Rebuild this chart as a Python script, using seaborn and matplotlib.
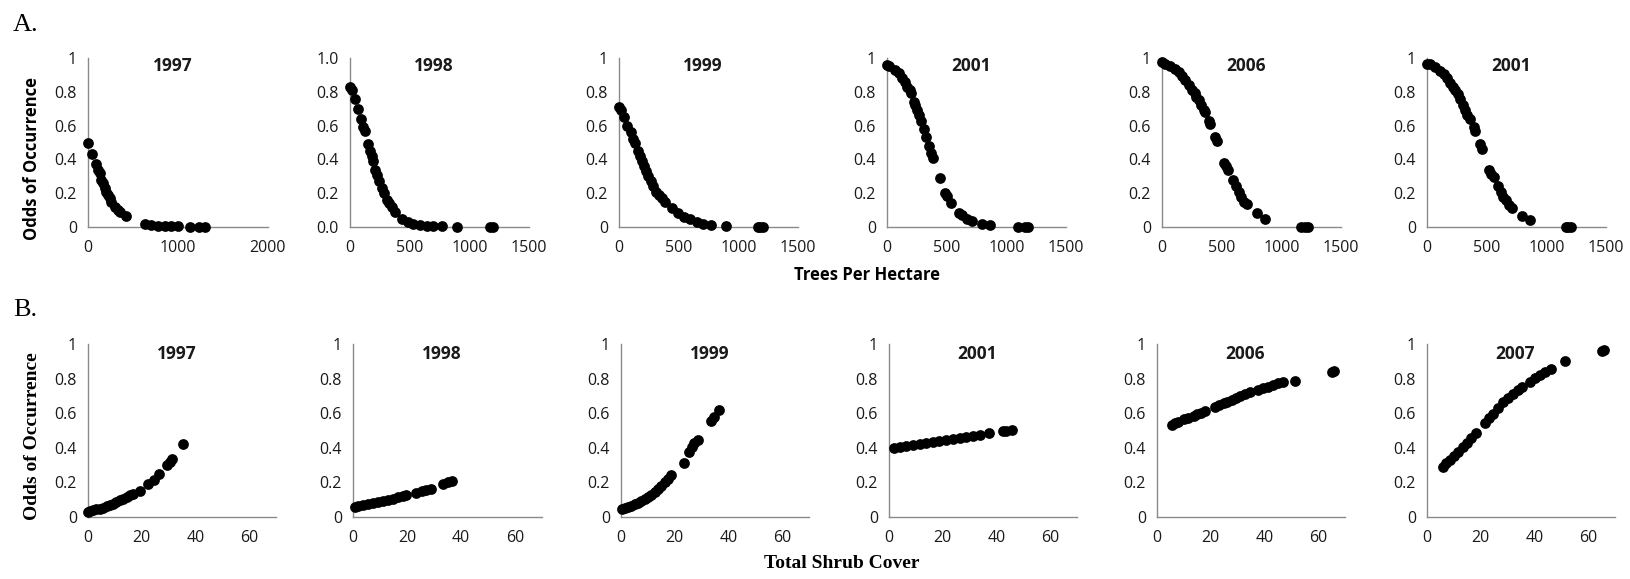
import matplotlib
matplotlib.use("Agg")
import matplotlib.pyplot as plt
import seaborn as sns

# ---------------------------------------------------------------------------
# Data (x = trees per hectare / shrub cover, y = odds)
# ---------------------------------------------------------------------------

top_titles = ["1997", "1998", "1999", "2001", "2006", "2001"]
bottom_titles = ["1997", "1998", "1999", "2001", "2006", "2007"]

trees_x_1997 = [0, 48, 93, 111, 130, 148, 167, 185, 204, 222, 241, 259, 296, 333, 352, 426,
                630, 704, 778, 852, 926, 1000, 1130, 1233, 1304]
trees_y_1997 = [0.50, 0.43, 0.37, 0.34, 0.32, 0.28, 0.26, 0.23, 0.21, 0.19, 0.17, 0.15, 0.12,
                0.10, 0.09, 0.065, 0.02, 0.012, 0.008, 0.005, 0.004, 0.003, 0.002, 0.002, 0.002]

trees_x_1998 = [0, 14, 42, 70, 92, 112, 126, 154, 168, 182, 196, 210, 223, 246, 265, 285, 307,
                330, 349, 377, 433, 489, 531, 587, 643, 698, 774, 894, 1173, 1201]
trees_y_1998 = [0.83, 0.81, 0.76, 0.70, 0.64, 0.59, 0.57, 0.49, 0.45, 0.42, 0.39, 0.34, 0.31,
                0.27, 0.23, 0.20, 0.16, 0.14, 0.12, 0.09, 0.05, 0.03, 0.02, 0.014, 0.008, 0.006,
                0.004, 0.002, 0.001, 0.001]

trees_x_1999 = [0, 17, 42, 70, 98, 120, 134, 156, 176, 190, 209, 226, 245, 265, 287, 309, 337,
                357, 385, 441, 496, 544, 594, 650, 705, 775, 895, 1165, 1179, 1207]
trees_y_1999 = [0.71, 0.69, 0.65, 0.60, 0.56, 0.52, 0.50, 0.45, 0.42, 0.39, 0.36, 0.33, 0.30,
                0.27, 0.24, 0.21, 0.19, 0.17, 0.15, 0.11, 0.08, 0.06, 0.045, 0.03, 0.02, 0.014,
                0.008, 0.002, 0.002, 0.002]

trees_x_2001 = [0, 14, 70, 98, 125, 148, 167, 190, 204, 223, 237, 251, 265, 284, 307, 329, 349,
                371, 385, 441, 488, 502, 538, 600, 628, 670, 711, 795, 864, 1101, 1157, 1179]
trees_y_2001 = [0.96, 0.955, 0.93, 0.91, 0.88, 0.86, 0.83, 0.81, 0.79, 0.74, 0.72, 0.69, 0.66,
                0.63, 0.58, 0.53, 0.48, 0.44, 0.41, 0.29, 0.20, 0.185, 0.14, 0.08, 0.07, 0.05,
                0.035, 0.018, 0.012, 0.002, 0.002, 0.002]

trees_x_2006 = [0, 28, 70, 112, 140, 168, 196, 223, 251, 274, 288, 307, 330, 349, 363, 391, 405,
                447, 461, 522, 539, 550, 592, 620, 648, 665, 690, 712, 796, 860, 1165, 1201, 1221]
trees_y_2006 = [0.974, 0.966, 0.955, 0.935, 0.915, 0.895, 0.87, 0.84, 0.81, 0.79, 0.77, 0.75,
                0.72, 0.69, 0.68, 0.63, 0.61, 0.53, 0.51, 0.38, 0.36, 0.34, 0.28, 0.24, 0.205,
                0.18, 0.15, 0.136, 0.08, 0.047, 0.002, 0.002, 0.002]

trees_x_2001b = [0, 28, 70, 106, 139, 167, 195, 217, 237, 259, 279, 301, 315, 335, 357, 390, 399,
                 446, 463, 521, 538, 558, 594, 619, 641, 664, 689, 711, 795, 859, 1163, 1185, 1207]
trees_y_2001b = [0.966, 0.962, 0.945, 0.925, 0.905, 0.88, 0.855, 0.83, 0.81, 0.785, 0.755, 0.72,
                 0.695, 0.665, 0.64, 0.59, 0.57, 0.49, 0.46, 0.34, 0.315, 0.296, 0.24, 0.21, 0.18,
                 0.16, 0.13, 0.112, 0.063, 0.04, 0.002, 0.002, 0.002]

shrub_x_1997 = [0, 0.6, 1.9, 3.1, 4.4, 5.6, 6.9, 8.1, 9.4, 10.6, 11.9, 13.1, 14.4, 15.6, 16.6,
                19.4, 22.5, 24.4, 26.6, 29.4, 30.6, 31.3, 35.3]
shrub_y_1997 = [0.03, 0.033, 0.039, 0.045, 0.048, 0.054, 0.062, 0.07, 0.077, 0.087, 0.097, 0.106,
                0.116, 0.126, 0.135, 0.151, 0.193, 0.213, 0.25, 0.30, 0.32, 0.333, 0.42]

shrub_x_1998 = [0.6, 1.8, 3.7, 5.5, 7.4, 9.2, 11.1, 12.9, 14.8, 16.6, 18.5, 19.5, 23.4, 25.6,
                27.1, 28.9, 33.5, 35.1, 36.7]
shrub_y_1998 = [0.058, 0.062, 0.068, 0.073, 0.079, 0.085, 0.091, 0.099, 0.106, 0.114, 0.122,
                0.126, 0.137, 0.151, 0.155, 0.16, 0.19, 0.20, 0.209]

shrub_x_1999 = [0.2, 1.5, 2.7, 3.9, 5.2, 6.4, 7.6, 8.9, 10.1, 11.3, 12.6, 13.8, 15.0, 16.3, 17.5,
                18.7, 23.4, 25.5, 26.5, 27.3, 28.6, 33.5, 34.7, 36.6]
shrub_y_1999 = [0.048, 0.052, 0.058, 0.066, 0.073, 0.081, 0.091, 0.103, 0.116, 0.13, 0.145,
                0.162, 0.182, 0.203, 0.222, 0.242, 0.313, 0.377, 0.406, 0.43, 0.445, 0.555,
                0.58, 0.619]

shrub_x_2001 = [1.9, 4.0, 6.4, 8.9, 11.4, 13.9, 16.4, 18.8, 21.3, 23.8, 26.3, 28.7, 31.2, 33.7,
                37.4, 42.6, 43.6, 45.7]
shrub_y_2001 = [0.400, 0.405, 0.411, 0.417, 0.423, 0.428, 0.434, 0.440, 0.446, 0.452, 0.457,
                0.464, 0.470, 0.476, 0.484, 0.497, 0.499, 0.505]

shrub_x_2006 = [5.6, 6.8, 8.0, 9.9, 11.4, 13.6, 14.9, 16.5, 18.0, 21.7, 23.1, 24.8, 26.0, 27.8,
                29.3, 30.9, 32.8, 34.7, 37.7, 39.6, 41.5, 43.3, 45.2, 47.0, 51.4, 65.0, 65.8]
shrub_y_2006 = [0.532, 0.542, 0.551, 0.565, 0.574, 0.584, 0.594, 0.603, 0.615, 0.634, 0.646,
                0.658, 0.667, 0.677, 0.689, 0.70, 0.712, 0.721, 0.735, 0.745, 0.754, 0.764,
                0.774, 0.781, 0.789, 0.841, 0.845]

shrub_x_2007 = [6.0, 7.2, 8.4, 9.9, 11.6, 13.4, 14.9, 16.5, 18.4, 21.5, 23.1, 24.6, 26.5, 28.3,
                30.2, 32.0, 33.9, 35.2, 38.3, 40.1, 42.0, 43.9, 46.3, 51.3, 65.0, 65.8]
shrub_y_2007 = [0.29, 0.31, 0.329, 0.352, 0.375, 0.406, 0.429, 0.455, 0.484, 0.542, 0.571,
                0.596, 0.629, 0.662, 0.687, 0.712, 0.735, 0.75, 0.783, 0.803, 0.822, 0.838,
                0.857, 0.899, 0.961, 0.963]

top_series = [(trees_x_1997, trees_y_1997), (trees_x_1998, trees_y_1998),
              (trees_x_1999, trees_y_1999), (trees_x_2001, trees_y_2001),
              (trees_x_2006, trees_y_2006), (trees_x_2001b, trees_y_2001b)]
bottom_series = [(shrub_x_1997, shrub_y_1997), (shrub_x_1998, shrub_y_1998),
                 (shrub_x_1999, shrub_y_1999), (shrub_x_2001, shrub_y_2001),
                 (shrub_x_2006, shrub_y_2006), (shrub_x_2007, shrub_y_2007)]

# ---------------------------------------------------------------------------
# Layout (pixel positions of plot areas in the 1631 x 579 figure)
# ---------------------------------------------------------------------------

W, H = 1631, 579
top_left = [88, 350, 619, 887, 1162, 1427]
top_right = [268, 529, 798, 1066, 1341, 1606]
top_y0, top_y1 = 227, 58
bot_left = [88, 353, 621, 889, 1157, 1427]
bot_right = [276, 542, 809, 1077, 1345, 1615]
bot_y0, bot_y1 = 517, 344

sns.set_style("white")
plt.rcParams["font.family"] = ["Open Sans", "DejaVu Sans"]

SANS = ["Open Sans", "DejaVu Sans"]
SERIF = ["Liberation Serif", "DejaVu Serif"]
SPINE = "#8a8a8a"
TEXT = "#1a1a1a"

fig = plt.figure(figsize=(W / 100, H / 100), dpi=100)


def style_axes(ax, xmax, xstep, one_decimal=False):
    ax.set_xlim(0, xmax)
    ax.set_ylim(0, 1)
    ax.set_xticks(range(0, xmax + 1, xstep))
    yt = [0, 0.2, 0.4, 0.6, 0.8, 1.0]
    ax.set_yticks(yt)
    if one_decimal:
        ax.set_yticklabels([f"{v:.1f}" for v in yt])
    else:
        ax.set_yticklabels(["0", "0.2", "0.4", "0.6", "0.8", "1"])
    for side in ["top", "right"]:
        ax.spines[side].set_visible(False)
    for side in ["left", "bottom"]:
        ax.spines[side].set_color(SPINE)
        ax.spines[side].set_linewidth(1.0)
    ax.tick_params(axis="both", direction="out", length=5, width=1, color=SPINE,
                   labelsize=11.5, labelcolor=TEXT, pad=4)
    ax.tick_params(axis="y", pad=3)
    ax.set_xlabel("")
    ax.set_ylabel("")
    for lab in ax.get_xticklabels() + ax.get_yticklabels():
        lab.set_family(SANS)


def draw_row(series, titles, lefts, rights, y0, y1, xmax, xstep, title_y, decimal_panel=None):
    for i, ((xs, ys), title) in enumerate(zip(series, titles)):
        ax = fig.add_axes([lefts[i] / W, 1 - y0 / H,
                           (rights[i] - lefts[i]) / W, (y0 - y1) / H])
        sns.scatterplot(x=xs, y=ys, ax=ax, color="black", s=60,
                        linewidth=0, clip_on=False, zorder=3)
        style_axes(ax, xmax[i] if isinstance(xmax, list) else xmax,
                   xstep[i] if isinstance(xstep, list) else xstep,
                   one_decimal=(i == decimal_panel))
        ax.text(0.47, title_y, title, transform=ax.transAxes, ha="center", va="center",
                fontsize=12.5, fontweight="bold", family=SANS, color=TEXT)


# Row A: trees per hectare
draw_row(top_series, top_titles, top_left, top_right, top_y0, top_y1,
         [2000, 1500, 1500, 1500, 1500, 1500], [1000, 500, 500, 500, 500, 500],
         0.955, decimal_panel=1)

# Row B: total shrub cover
draw_row(bottom_series, bottom_titles, bot_left, bot_right, bot_y0, bot_y1,
         70, 20, 0.945)

# Panel letters
fig.text(13 / W, 1 - 31 / H, "A.", family=SERIF, fontsize=19, color="black",
         ha="left", va="baseline")
fig.text(13 / W, 1 - 316 / H, "B.", family=SERIF, fontsize=19, color="black",
         ha="left", va="baseline")

# Axis labels
fig.text(32 / W, 1 - 158 / H, "Odds of Occurrence", rotation=90, family=SANS,
         fontsize=12, fontweight="bold", ha="center", va="center", color="black")
fig.text(867 / W, 1 - 275 / H, "Trees Per Hectare", family=SANS,
         fontsize=12, fontweight="bold", ha="center", va="center", color="black")
fig.text(33 / W, 1 - 436 / H, "Odds of Occurrence", rotation=90, family=SERIF,
         fontsize=14, fontweight="bold", ha="center", va="center", color="black")
fig.text(842 / W, 1 - 563 / H, "Total Shrub Cover", family=SERIF,
         fontsize=14, fontweight="bold", ha="center", va="center", color="black")

fig.savefig("out.png", dpi=100, facecolor="white")
